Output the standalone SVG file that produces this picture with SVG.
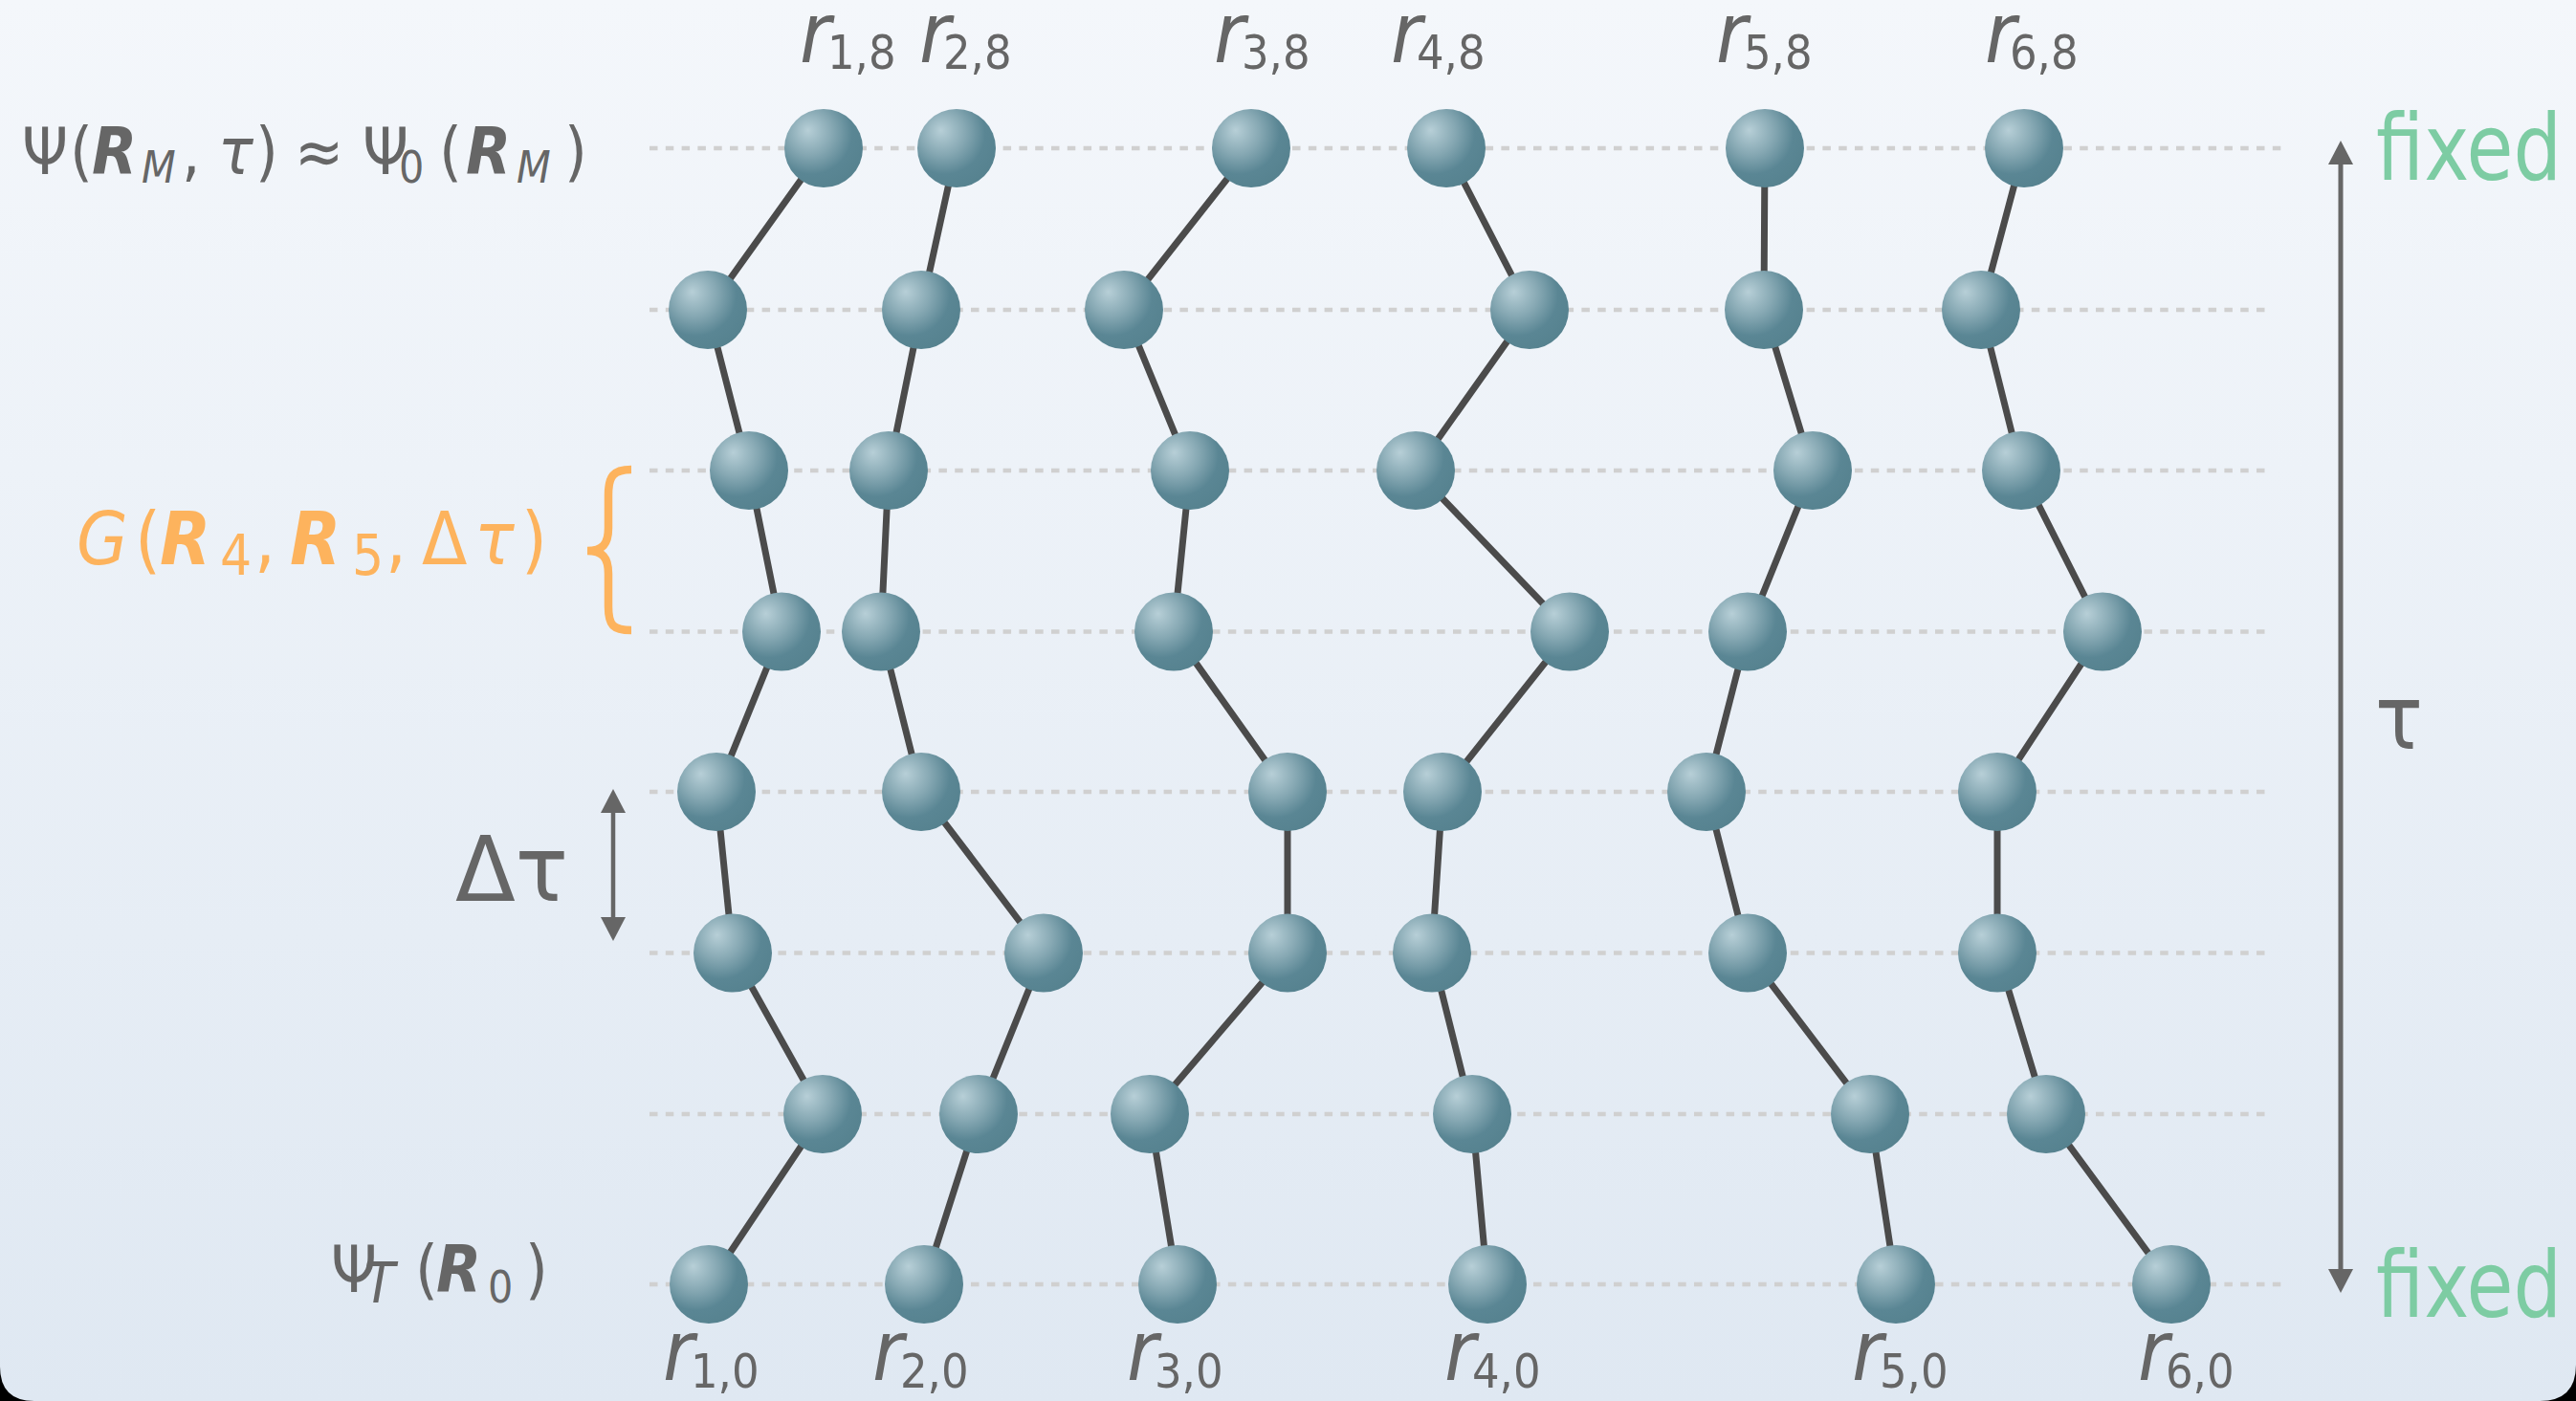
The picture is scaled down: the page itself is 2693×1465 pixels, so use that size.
<svg xmlns="http://www.w3.org/2000/svg" width="2693" height="1465" viewBox="0 0 2693 1465">
<defs>
<style>
.t{font-family:'DejaVu Sans Condensed','DejaVu Sans',sans-serif;font-stretch:condensed;fill:#666666}
.o{font-family:'DejaVu Sans Condensed','DejaVu Sans',sans-serif;font-stretch:condensed;fill:#fdb35d}
.g{font-family:'DejaVu Sans Condensed','DejaVu Sans',sans-serif;font-stretch:condensed;fill:#7dcca3}
.it{font-style:italic}
.bi{font-style:italic;font-weight:bold}
.dash{stroke:#d0d0d0;stroke-width:4.5;stroke-dasharray:8.5 8.3;fill:none}
.bond{stroke:#4b4b4b;stroke-width:7;stroke-linecap:round;stroke-linejoin:round;fill:none}
.bead{fill:url(#beadGrad)}
.arr{stroke:#666666;fill:none}
</style>
<linearGradient id="bg" x1="0" y1="0" x2="0" y2="1">
<stop offset="0" stop-color="#f4f7fb"/>
<stop offset="1" stop-color="#dfe8f2"/>
</linearGradient>
<radialGradient id="beadGrad" cx="0.36" cy="0.33" r="0.72" fx="0.3" fy="0.27">
<stop offset="0" stop-color="#b7cfd7"/>
<stop offset="0.4" stop-color="#86a8b3"/>
<stop offset="0.72" stop-color="#5a8694"/>
<stop offset="1" stop-color="#56828f"/>
</radialGradient>
<marker id="ah" viewBox="0 0 25 26" refX="1" refY="13" markerWidth="25" markerHeight="26" markerUnits="userSpaceOnUse" orient="auto-start-reverse">
<path d="M0,0 L25,13 L0,26 z" fill="#666666"/>
</marker>
</defs>
<rect x="0" y="0" width="2693" height="1465" fill="#000"/>
<path d="M0,0 H2693 V1427 Q2693,1465 2655,1465 H36 Q0,1465 0,1429 Z" fill="url(#bg)"/>

<g id="grid">
<line class="dash" x1="679" y1="155" x2="2387" y2="155"/>
<line class="dash" x1="679" y1="324" x2="2373" y2="324"/>
<line class="dash" x1="679" y1="492" x2="2373" y2="492"/>
<line class="dash" x1="679" y1="660.5" x2="2373" y2="660.5"/>
<line class="dash" x1="679" y1="828" x2="2373" y2="828"/>
<line class="dash" x1="679" y1="996.5" x2="2373" y2="996.5"/>
<line class="dash" x1="679" y1="1165" x2="2373" y2="1165"/>
<line class="dash" x1="679" y1="1343" x2="2387" y2="1343"/>
</g>

<g id="connectors">
<polyline class="bond" points="861,155 740,324 783,492 817,660.5 749,828 766,996.5 860,1165 741,1343"/>
<polyline class="bond" points="1000,155 963,324 929,492 921,660.5 963,828 1091,996.5 1023,1165 966,1343"/>
<polyline class="bond" points="1308,155 1175,324 1244,492 1227,660.5 1346,828 1346,996.5 1202,1165 1231,1343"/>
<polyline class="bond" points="1512,155 1599,324 1480,492 1641,660.5 1508,828 1497,996.5 1539,1165 1555,1343"/>
<polyline class="bond" points="1845,155 1844,324 1895,492 1827,660.5 1784,828 1827,996.5 1955,1165 1982,1343"/>
<polyline class="bond" points="2116,155 2071,324 2113,492 2198,660.5 2088,828 2088,996.5 2139,1165 2270,1343"/>
</g>

<g id="beads">
<g id="b1-1"><circle class="bead" cx="861" cy="155" r="41"/></g>
<g id="b1-2"><circle class="bead" cx="740" cy="324" r="41"/></g>
<g id="b1-3"><circle class="bead" cx="783" cy="492" r="41"/></g>
<g id="b1-4"><circle class="bead" cx="817" cy="660.5" r="41"/></g>
<g id="b1-5"><circle class="bead" cx="749" cy="828" r="41"/></g>
<g id="b1-6"><circle class="bead" cx="766" cy="996.5" r="41"/></g>
<g id="b1-7"><circle class="bead" cx="860" cy="1165" r="41"/></g>
<g id="b1-8"><circle class="bead" cx="741" cy="1343" r="41"/></g>
<g id="b2-1"><circle class="bead" cx="1000" cy="155" r="41"/></g>
<g id="b2-2"><circle class="bead" cx="963" cy="324" r="41"/></g>
<g id="b2-3"><circle class="bead" cx="929" cy="492" r="41"/></g>
<g id="b2-4"><circle class="bead" cx="921" cy="660.5" r="41"/></g>
<g id="b2-5"><circle class="bead" cx="963" cy="828" r="41"/></g>
<g id="b2-6"><circle class="bead" cx="1091" cy="996.5" r="41"/></g>
<g id="b2-7"><circle class="bead" cx="1023" cy="1165" r="41"/></g>
<g id="b2-8"><circle class="bead" cx="966" cy="1343" r="41"/></g>
<g id="b3-1"><circle class="bead" cx="1308" cy="155" r="41"/></g>
<g id="b3-2"><circle class="bead" cx="1175" cy="324" r="41"/></g>
<g id="b3-3"><circle class="bead" cx="1244" cy="492" r="41"/></g>
<g id="b3-4"><circle class="bead" cx="1227" cy="660.5" r="41"/></g>
<g id="b3-5"><circle class="bead" cx="1346" cy="828" r="41"/></g>
<g id="b3-6"><circle class="bead" cx="1346" cy="996.5" r="41"/></g>
<g id="b3-7"><circle class="bead" cx="1202" cy="1165" r="41"/></g>
<g id="b3-8"><circle class="bead" cx="1231" cy="1343" r="41"/></g>
<g id="b4-1"><circle class="bead" cx="1512" cy="155" r="41"/></g>
<g id="b4-2"><circle class="bead" cx="1599" cy="324" r="41"/></g>
<g id="b4-3"><circle class="bead" cx="1480" cy="492" r="41"/></g>
<g id="b4-4"><circle class="bead" cx="1641" cy="660.5" r="41"/></g>
<g id="b4-5"><circle class="bead" cx="1508" cy="828" r="41"/></g>
<g id="b4-6"><circle class="bead" cx="1497" cy="996.5" r="41"/></g>
<g id="b4-7"><circle class="bead" cx="1539" cy="1165" r="41"/></g>
<g id="b4-8"><circle class="bead" cx="1555" cy="1343" r="41"/></g>
<g id="b5-1"><circle class="bead" cx="1845" cy="155" r="41"/></g>
<g id="b5-2"><circle class="bead" cx="1844" cy="324" r="41"/></g>
<g id="b5-3"><circle class="bead" cx="1895" cy="492" r="41"/></g>
<g id="b5-4"><circle class="bead" cx="1827" cy="660.5" r="41"/></g>
<g id="b5-5"><circle class="bead" cx="1784" cy="828" r="41"/></g>
<g id="b5-6"><circle class="bead" cx="1827" cy="996.5" r="41"/></g>
<g id="b5-7"><circle class="bead" cx="1955" cy="1165" r="41"/></g>
<g id="b5-8"><circle class="bead" cx="1982" cy="1343" r="41"/></g>
<g id="b6-1"><circle class="bead" cx="2116" cy="155" r="41"/></g>
<g id="b6-2"><circle class="bead" cx="2071" cy="324" r="41"/></g>
<g id="b6-3"><circle class="bead" cx="2113" cy="492" r="41"/></g>
<g id="b6-4"><circle class="bead" cx="2198" cy="660.5" r="41"/></g>
<g id="b6-5"><circle class="bead" cx="2088" cy="828" r="41"/></g>
<g id="b6-6"><circle class="bead" cx="2088" cy="996.5" r="41"/></g>
<g id="b6-7"><circle class="bead" cx="2139" cy="1165" r="41"/></g>
<g id="b6-8"><circle class="bead" cx="2270" cy="1343" r="41"/></g>
</g>

<g id="top-labels">
<text class="t"><tspan class="it" x="836" y="65" font-size="88">r</tspan><tspan x="865" y="72" font-size="50">1,8</tspan></text>
<text class="t"><tspan class="it" x="961" y="65" font-size="88">r</tspan><tspan x="986" y="72" font-size="50">2,8</tspan></text>
<text class="t"><tspan class="it" x="1269" y="65" font-size="88">r</tspan><tspan x="1298" y="72" font-size="50">3,8</tspan></text>
<text class="t"><tspan class="it" x="1454" y="65" font-size="88">r</tspan><tspan x="1481" y="72" font-size="50">4,8</tspan></text>
<text class="t"><tspan class="it" x="1794" y="65" font-size="88">r</tspan><tspan x="1823" y="72" font-size="50">5,8</tspan></text>
<text class="t"><tspan class="it" x="2075" y="65" font-size="88">r</tspan><tspan x="2101" y="72" font-size="50">6,8</tspan></text>
</g>

<g id="bottom-labels">
<text class="t"><tspan class="it" x="693" y="1443" font-size="88">r</tspan><tspan x="722" y="1451" font-size="50">1,0</tspan></text>
<text class="t"><tspan class="it" x="912" y="1443" font-size="88">r</tspan><tspan x="941" y="1451" font-size="50">2,0</tspan></text>
<text class="t"><tspan class="it" x="1178" y="1443" font-size="88">r</tspan><tspan x="1207" y="1451" font-size="50">3,0</tspan></text>
<text class="t"><tspan class="it" x="1510" y="1443" font-size="88">r</tspan><tspan x="1539" y="1451" font-size="50">4,0</tspan></text>
<text class="t"><tspan class="it" x="1936" y="1443" font-size="88">r</tspan><tspan x="1965" y="1451" font-size="50">5,0</tspan></text>
<text class="t"><tspan class="it" x="2235" y="1443" font-size="88">r</tspan><tspan x="2264" y="1451" font-size="50">6,0</tspan></text>
</g>

<g id="psi-top">
<text class="t" font-size="68"><tspan x="23" y="182">Ψ</tspan><tspan x="73" y="182">(</tspan><tspan class="bi" x="96" y="182">R</tspan><tspan class="it" x="148" y="191" font-size="46">M</tspan><tspan x="190" y="182">,</tspan><tspan class="it" x="228" y="182">τ</tspan><tspan x="267" y="182">)</tspan><tspan x="308" y="182">≈</tspan><tspan x="379" y="182">Ψ</tspan><tspan x="417" y="191" font-size="46">0</tspan><tspan x="459" y="182">(</tspan><tspan class="bi" x="487" y="182">R</tspan><tspan class="it" x="540" y="191" font-size="46">M</tspan><tspan x="590" y="182">)</tspan></text>
</g>

<g id="green-function">
<text class="o" font-size="77"><tspan class="it" x="80" y="590">G</tspan><tspan x="141" y="590">(</tspan><tspan class="bi" x="167" y="590">R</tspan><tspan x="230" y="601" font-size="58">4</tspan><tspan x="266" y="590">,</tspan><tspan class="bi" x="303" y="590">R</tspan><tspan x="368" y="601" font-size="58">5</tspan><tspan x="403" y="590">,</tspan><tspan x="441" y="590">Δ</tspan><tspan class="it" x="496" y="590">τ</tspan><tspan x="545" y="590">)</tspan></text>
<path d="M660,491 C641,491 636,498 636,518 L636,552 C636,569 630,576 614,576 C630,576 636,583 636,600 L636,634 C636,654 641,659 660,659" fill="none" stroke="#fdb35d" stroke-width="8.5"/>
</g>

<g id="delta-tau">
<text class="t" font-size="95" x="476" y="942" textLength="118" lengthAdjust="spacingAndGlyphs">Δτ</text>
<line class="arr" x1="641" y1="849" x2="641" y2="960" stroke-width="4.5" marker-start="url(#ah)" marker-end="url(#ah)"/>
</g>

<g id="psi-bottom">
<text class="t" font-size="68"><tspan x="346" y="1351">Ψ</tspan><tspan class="it" x="381" y="1362" font-size="58">T</tspan><tspan x="434" y="1351">(</tspan><tspan class="bi" x="456" y="1351">R</tspan><tspan x="510" y="1362" font-size="46">0</tspan><tspan x="549" y="1351">)</tspan></text>
</g>

<g id="tau-axis">
<line class="arr" x1="2447" y1="171" x2="2447" y2="1328" stroke-width="5" marker-start="url(#ah)" marker-end="url(#ah)"/>
<text class="t" font-size="92" x="2483" y="783">τ</text>
<text class="g" font-size="96" x="2484" y="188" textLength="194" lengthAdjust="spacingAndGlyphs">fixed</text>
<text class="g" font-size="96" x="2484" y="1377" textLength="194" lengthAdjust="spacingAndGlyphs">fixed</text>
</g>
</svg>
